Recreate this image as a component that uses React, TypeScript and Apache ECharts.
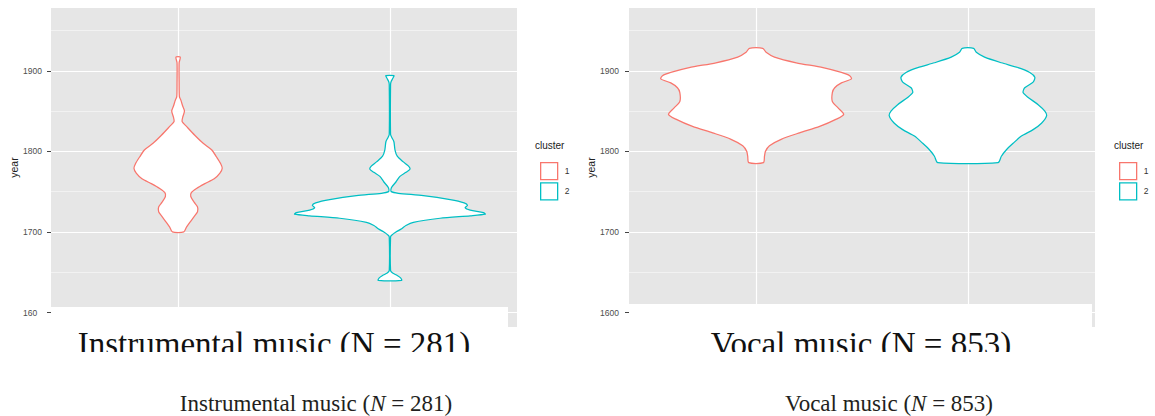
import React, { useEffect, useRef } from 'react';
import * as echarts from 'echarts';

// ---------- data ----------
const clusters = ['1', '2'];
const clusterColors = ['#F8766D', '#00BFC4'];
const clusterPositions = [1, 2];
const yTicks = [1600, 1700, 1800, 1900];
const yMinorTicks = [1650, 1750, 1850, 1950];
const panelNames = ['Instrumental music', 'Vocal music'];
const panelN = [281, 853];

// violin profiles: year, scaled density (1 = widest violin in panel)
const instYears1 = [1917, 1910, 1885, 1868, 1864, 1856, 1850, 1843, 1837, 1831, 1820, 1810, 1802, 1793, 1785, 1779, 1773, 1766, 1760, 1754, 1749, 1744, 1737, 1731, 1725, 1719, 1712, 1706, 1700];
const instDens1 = [0.023, 0.011, 0.011, 0.014, 0.028, 0.049, 0.067, 0.05, 0.042, 0.088, 0.175, 0.263, 0.351, 0.404, 0.446, 0.463, 0.439, 0.379, 0.281, 0.193, 0.14, 0.133, 0.168, 0.204, 0.204, 0.168, 0.123, 0.088, 0.06];

const instYears2 = [1894, 1891, 1887, 1883, 1821, 1817, 1812, 1802, 1794, 1787, 1782, 1778, 1774, 1769, 1762, 1756, 1753, 1750, 1748, 1745, 1740, 1736, 1733, 1730, 1727, 1724, 1722, 1720, 1717, 1712, 1708, 1704, 1700, 1696, 1694, 1652, 1649, 1646, 1643, 1640];
const instDens2 = [0.042, 0.032, 0.014, 0.007, 0.007, 0.021, 0.042, 0.053, 0.077, 0.14, 0.193, 0.211, 0.168, 0.105, 0.063, 0.021, 0.011, 0.014, 0.088, 0.351, 0.632, 0.779, 0.814, 0.789, 0.842, 0.982, 1.0, 0.842, 0.526, 0.246, 0.168, 0.123, 0.063, 0.018, 0.007, 0.007, 0.028, 0.077, 0.112, 0.123];

const vocYears1 = [1928, 1923, 1917, 1910, 1904, 1898, 1894, 1890, 1885, 1879, 1873, 1862, 1854, 1846, 1840, 1831, 1823, 1815, 1807, 1800, 1794, 1786];
const vocDens1 = [0.07, 0.105, 0.193, 0.421, 0.702, 0.895, 0.982, 1.0, 0.895, 0.825, 0.8, 0.8, 0.86, 0.919, 0.842, 0.667, 0.456, 0.263, 0.14, 0.098, 0.088, 0.077];

const vocYears2 = [1928, 1923, 1917, 1910, 1904, 1898, 1892, 1886, 1879, 1873, 1867, 1858, 1850, 1844, 1835, 1827, 1819, 1810, 1802, 1794, 1786];
const vocDens2 = [0.06, 0.088, 0.175, 0.351, 0.526, 0.649, 0.702, 0.684, 0.596, 0.579, 0.632, 0.737, 0.807, 0.825, 0.772, 0.684, 0.561, 0.474, 0.404, 0.351, 0.316];

const profiles = [
  [[instYears1, instDens1], [instYears2, instDens2]],
  [[vocYears1, vocDens1], [vocYears2, vocDens2]],
];

// ---------- layout ----------
const HALF = 0.45;
const Y_MIN = 1582;
const Y_MAX = 1978;
const gridLefts = [51, 629];
const GRID_TOP = 8;
const GRID_W = 466;
const GRID_H = 319;
const labelFont = 'Liberation Sans, Arial, sans-serif';
const serif = 'Liberation Serif, Times New Roman, serif';

function violin(panel: number, ci: number) {
  const [years, dens] = profiles[panel][ci];
  const color = clusterColors[ci];
  return {
    type: 'custom',
    name: clusters[ci],
    coordinateSystem: 'cartesian2d',
    xAxisIndex: panel,
    yAxisIndex: panel * 2,
    silent: true,
    z: 5,
    itemStyle: { color },
    data: [[clusterPositions[ci], years[0]]],
    renderItem: (params: any, api: any) => {
      const x0 = api.value(0);
      const right = years.map((y: number, i: number) => api.coord([x0 + dens[i] * HALF, y]));
      const left = years.map((y: number, i: number) => api.coord([x0 - dens[i] * HALF, y])).reverse();
      return {
        type: 'polygon',
        shape: { points: right.concat(left), smooth: 0.25 },
        style: { fill: '#ffffff', stroke: color, lineWidth: 1.25 },
      };
    },
  };
}

export default function App() {
  const ref = useRef<HTMLDivElement>(null);
  useEffect(() => {
    if (!ref.current) return;
    const chart = echarts.init(ref.current, undefined, { renderer: 'svg' });

    const grids = gridLefts.map((l) => ({
      left: l, top: GRID_TOP, width: GRID_W, height: GRID_H,
      show: true, backgroundColor: '#E6E6E6', borderWidth: 0, containLabel: false,
    }));

    const xAxes = gridLefts.map((_, i) => ({
      type: 'value', gridIndex: i, min: 0.4, max: 2.6,
      axisLine: { show: false },
      axisLabel: { show: false },
      axisTick: { show: false, customValues: clusterPositions },
      splitLine: { show: true, lineStyle: { color: '#ffffff', width: 1.2 } },
    }));

    const yAxes: any[] = [];
    gridLefts.forEach((_, i) => {
      yAxes.push({
        type: 'value', gridIndex: i, min: Y_MIN, max: Y_MAX,
        name: 'year', nameLocation: 'middle', nameRotate: 90, nameGap: i === 0 ? 31 : 30,
        nameTextStyle: { fontSize: 10.5, color: '#222', fontFamily: labelFont },
        axisLine: { show: false },
        axisTick: { show: true, length: 4, customValues: yTicks, lineStyle: { color: '#444', width: 1 } },
        axisLabel: {
          customValues: yTicks, fontSize: 8.5, color: '#4D4D4D', fontFamily: labelFont,
          align: 'left', margin: i === 0 ? 28 : 29,
          formatter: (v: number) => (i === 0 && v === 1600 ? '160' : String(v)),
        },
        splitLine: { show: true, lineStyle: { color: '#ffffff', width: 1.2 } },
      });
      yAxes.push({
        type: 'value', gridIndex: i, min: Y_MIN, max: Y_MAX,
        axisLine: { show: false },
        axisTick: { show: false, customValues: yMinorTicks },
        axisLabel: { show: false, customValues: yMinorTicks },
        splitLine: { show: true, lineStyle: { color: '#F5F5F5', width: 0.8 } },
      });
    });

    const series: any[] = [];
    [0, 1].forEach((p) => [0, 1].forEach((c) => series.push(violin(p, c))));

    const legendX = [535, 1114];
    const legends = legendX.map((lx) => ({
      orient: 'vertical', left: lx, top: 157, itemWidth: 17, itemHeight: 17, itemGap: 2,
      icon: 'rect', selectedMode: false,
      textStyle: { fontSize: 8.5, color: '#333', fontFamily: labelFont, padding: [0, 0, 0, 2] },
      data: clusters.map((c, ci) => ({
        name: c,
        itemStyle: { color: '#ffffff', borderColor: clusterColors[ci], borderWidth: 1.3 },
      })),
    }));

    const bigTitleX = [274, 861];
    const captionX = [316, 889];
    const overlays = [
      { x: 51, y: 307, width: 457, height: 40 },
      { x: 629, y: 304, width: 463, height: 43 },
    ];

    const graphic: any[] = [];
    legendX.forEach((lx) => {
      graphic.push({
        type: 'text', x: lx, y: 145, z: 50,
        style: { text: 'cluster', fontSize: 10, fill: '#222', fontFamily: labelFont, align: 'left', verticalAlign: 'middle' },
      });
    });
    overlays.forEach((o) => {
      graphic.push({ type: 'rect', shape: o, z: 100, style: { fill: '#ffffff' } });
    });
    panelNames.forEach((nm, i) => {
      graphic.push({
        type: 'text', x: bigTitleX[i], y: 344, z: 101,
        style: { text: `${nm} (N = ${panelN[i]})`, fontSize: 33, fill: '#111', fontFamily: serif, align: 'center', verticalAlign: 'middle' },
      });
    });
    graphic.push({ type: 'rect', shape: { x: 0, y: 352, width: 1155, height: 34 }, z: 102, style: { fill: '#ffffff' } });
    panelNames.forEach((nm, i) => {
      graphic.push({
        type: 'text', x: captionX[i], y: 403, z: 103,
        style: {
          text: `{r|${nm} (}{i|N}{r| = ${panelN[i]})}`,
          align: 'center', verticalAlign: 'middle',
          rich: {
            r: { fontSize: 23, fontFamily: serif, fill: '#231f20' },
            i: { fontSize: 23, fontFamily: serif, fontStyle: 'italic', fill: '#231f20' },
          },
        },
      });
    });

    chart.setOption({
      animation: false,
      backgroundColor: '#ffffff',
      grid: grids,
      xAxis: xAxes,
      yAxis: yAxes,
      legend: legends,
      series,
      graphic,
    });
    return () => chart.dispose();
  }, []);
  return <div ref={ref} style={{ position: 'absolute', left: 0, top: 0, width: 1155, height: 416 }} />;
}
